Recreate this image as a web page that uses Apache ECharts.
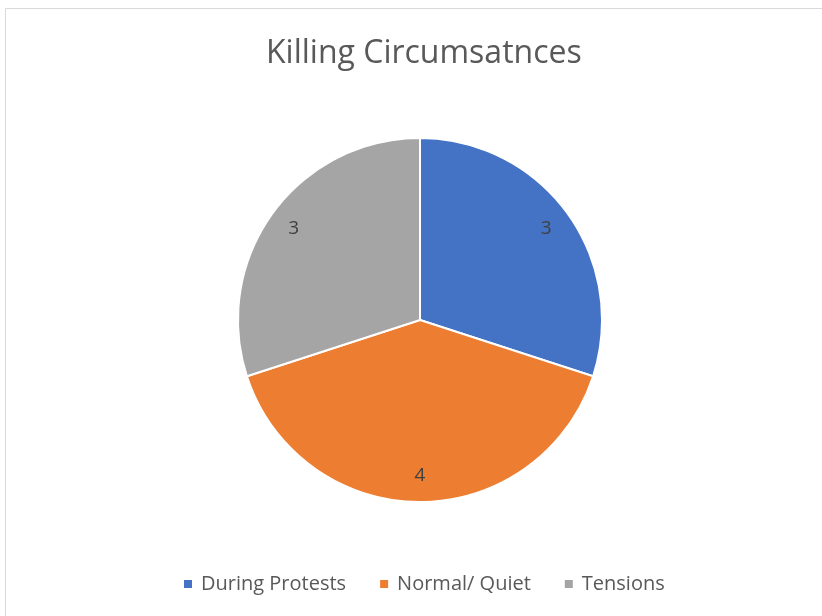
<!DOCTYPE html>
<html>
<head>
<meta charset="utf-8">
<script src="https://cdn.jsdelivr.net/npm/echarts@6/dist/echarts.min.js"></script>
<style>
  html, body { margin: 0; padding: 0; background: #fff; }
  #chart { width: 822px; height: 616px; }
</style>
</head>
<body>
<div id="chart"></div>
<script>
var categories = ['During Protests', 'Normal/ Quiet', 'Tensions'];
var values = [3, 4, 3];
var colors = ['#4472C4', '#ED7D31', '#A5A5A5'];

var pieData = categories.map(function (name, i) {
    return { name: name, value: values[i], itemStyle: { color: colors[i] } };
});

var font = 'Open Sans';

var option = {
    backgroundColor: '#fff',
    animation: false,
    title: {
        text: 'Killing Circumsatnces',
        left: 261,
        top: 33,
        textStyle: { fontFamily: font, fontSize: 32, fontWeight: 'normal', color: '#595959' }
    },
    legend: {
        bottom: 17,
        left: 177,
        itemWidth: 10,
        itemHeight: 10,
        itemGap: 32,
        icon: 'rect',
        data: categories,
        textStyle: { fontFamily: font, fontSize: 20, color: '#595959', padding: [0, 0, 0, 3] }
    },
    graphic: [{
        type: 'rect',
        shape: { x: 5.5, y: 8.5, width: 830, height: 620 },
        style: { fill: null, stroke: '#d9d9d9', lineWidth: 1 },
        silent: true
    }],
    series: [
        {
            // the pie itself
            type: 'pie',
            center: [420, 320],
            radius: [0, 182],
            startAngle: 90,
            clockwise: true,
            data: pieData,
            label: { show: false },
            labelLine: { show: false },
            itemStyle: { borderColor: '#fff', borderWidth: 2 },
            emphasis: { disabled: true }
        },
        {
            // invisible ring, only used to place the value labels near the rim
            type: 'pie',
            center: [420, 320],
            radius: [124, 182],
            startAngle: 90,
            clockwise: true,
            silent: true,
            legendHoverLink: false,
            data: categories.map(function (name, i) {
                return { name: name, value: values[i], itemStyle: { color: 'rgba(0,0,0,0)' } };
            }),
            label: {
                show: true,
                position: 'inside',
                formatter: '{c}',
                fontFamily: font,
                fontSize: 19,
                color: '#404040'
            },
            labelLine: { show: false },
            emphasis: { disabled: true }
        }
    ]
};

var chart = echarts.init(document.getElementById('chart'));
chart.setOption(option);
</script>
</body>
</html>
